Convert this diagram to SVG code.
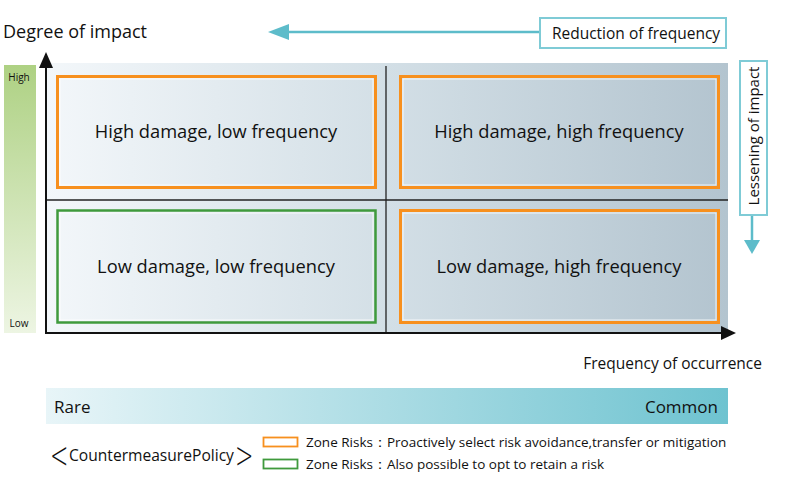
<svg xmlns="http://www.w3.org/2000/svg" width="800" height="483" viewBox="0 0 800 483">
<style>
text{font-family:"Open Sans","Noto Sans",sans-serif;fill:#111}
.q{font-size:18.3px;text-anchor:middle}
.or{fill:none;stroke:#f7901e;stroke-width:3}
.gr{fill:none;stroke:#3f9a3c;stroke-width:2.5}
.wi{fill:none;stroke:#ffffff;stroke-width:1;opacity:0.8}
.ax{stroke:#111;stroke-width:2;fill:none}
.dv{stroke:#222;stroke-width:1.3}
.tl{stroke:#5dbcca;stroke-width:2.5;fill:none}
.tb{fill:#fff;stroke:#7fcbd6;stroke-width:2}
.lg{font-size:13.5px}
.br{font-family:"DejaVu Sans",sans-serif;font-size:20px;font-weight:200}
</style>
<defs>
<linearGradient id="bg" x1="0" y1="0" x2="1" y2="0">
<stop offset="0" stop-color="#f3f7fa"/>
<stop offset="0.5" stop-color="#d3dfe6"/>
<stop offset="1" stop-color="#b3c4cf"/>
</linearGradient>
<linearGradient id="gb" x1="0" y1="0" x2="0" y2="1">
<stop offset="0" stop-color="#aed183"/>
<stop offset="1" stop-color="#edf5e3"/>
</linearGradient>
<linearGradient id="tb" x1="0" y1="0" x2="1" y2="0">
<stop offset="0" stop-color="#e8f5f8"/>
<stop offset="1" stop-color="#6ec3d0"/>
</linearGradient>
</defs>
<rect width="800" height="483" fill="#fff"/>

<g id="background">
<rect x="46" y="63" width="682" height="271" fill="url(#bg)"/>
</g>

<g id="impact-scale">
<rect x="4" y="65" width="32" height="268" fill="url(#gb)"/>
<text x="19" y="81" font-size="10" text-anchor="middle" fill="#333">High</text>
<text x="19" y="327" font-size="10" text-anchor="middle" fill="#333">Low</text>
</g>

<text id="y-title" x="3" y="38" font-size="18">Degree of impact</text>
<text id="x-title" x="762" y="369" font-size="15.5" text-anchor="end">Frequency of occurrence</text>

<g id="connectors">
<line class="dv" x1="386" y1="66" x2="386" y2="333"/>
<line class="dv" x1="46" y1="200" x2="728" y2="200"/>
<path class="ax" d="M46,334V54"/>
<path d="M39,68L46,52L53,68z" fill="#111"/>
<path class="ax" d="M45,333H722"/>
<path d="M721,326L736,333L721,340z" fill="#111"/>
<path class="tl" d="M539,32H285"/>
<path d="M289,24L268,32L289,40z" fill="#5dbcca"/>
<path class="tl" d="M752,215V242"/>
<path d="M744,240L752,254L760,240z" fill="#5dbcca"/>
</g>

<g id="q-hl">
<rect class="or" x="57.5" y="76.5" width="318" height="111"/>
<rect class="wi" x="60" y="79" width="313" height="106"/>
<text class="q" x="216" y="137.5">High damage, low frequency</text>
</g>
<g id="q-hh">
<rect class="or" x="400.5" y="76.5" width="318" height="111"/>
<rect class="wi" x="403" y="79" width="313" height="106"/>
<text class="q" x="559" y="137.5">High damage, high frequency</text>
</g>
<g id="q-ll">
<rect class="gr" x="57.5" y="210.5" width="318" height="112"/>
<rect class="wi" x="60" y="213" width="313" height="107"/>
<text class="q" x="216" y="272.5">Low damage, low frequency</text>
</g>
<g id="q-lh">
<rect class="or" x="400.5" y="210.5" width="318" height="112"/>
<rect class="wi" x="403" y="213" width="313" height="107"/>
<text class="q" x="559" y="272.5">Low damage, high frequency</text>
</g>

<g id="reduction">
<rect class="tb" x="540" y="18" width="186" height="30"/>
<text x="636" y="38.5" font-size="15.5" text-anchor="middle">Reduction of frequency</text>
</g>
<g id="lessening">
<rect class="tb" x="740" y="61" width="27" height="154"/>
<text transform="translate(759,136) rotate(-90)" font-size="15" text-anchor="middle">Lessening of impact</text>
</g>

<g id="freq-bar">
<rect x="46" y="388" width="682" height="36" fill="url(#tb)"/>
<text x="54" y="413" font-size="17">Rare</text>
<text x="718" y="413" font-size="17" text-anchor="end">Common</text>
</g>

<g id="legend">
<text class="br" transform="translate(50,468) scale(1.1,1.9)">&lt;</text>
<text x="69" y="461" font-size="15.6">CountermeasurePolicy</text>
<text class="br" transform="translate(235,468) scale(1.1,1.9)">&gt;</text>
<rect x="263.5" y="437.5" width="34" height="9" fill="#fff" stroke="#f7901e" stroke-width="1.8"/>
<rect x="263.5" y="459.5" width="34" height="9" fill="#fff" stroke="#3f9a3c" stroke-width="1.8"/>
<text class="lg" x="306" y="447">Zone Risks：Proactively select risk avoidance,transfer or mitigation</text>
<text class="lg" x="306" y="469">Zone Risks：Also possible to opt to retain a risk</text>
</g>
</svg>
